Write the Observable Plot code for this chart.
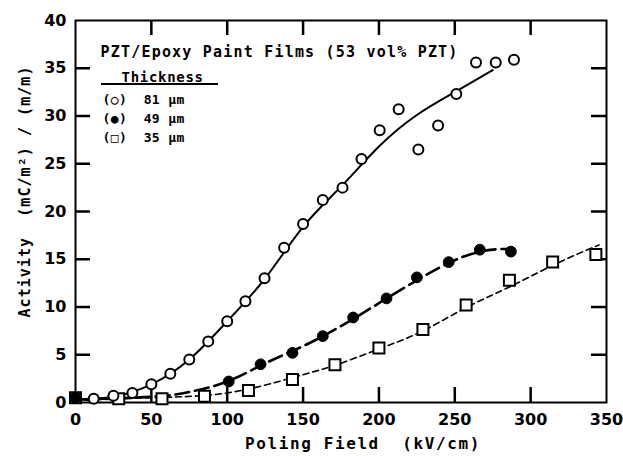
<!DOCTYPE html>
<html>
<head>
<meta charset="utf-8">
<script src="https://cdn.jsdelivr.net/npm/d3@7"></script>
<script src="https://cdn.jsdelivr.net/npm/@observablehq/plot@0.6"></script>
<style>
  html, body { margin: 0; padding: 0; background: #fff; }
</style>
</head>
<body>
<div id="chart"></div>
<script>
// ---- data ----
const x81 = [0, 12, 25, 37.5, 50, 62.5, 75, 87.5, 100, 112, 124.6, 137.5, 150, 163, 176, 188.5, 200.5, 213, 226, 239, 251, 264, 277, 289];
const y81 = [0.5, 0.4, 0.7, 1.0, 1.9, 3.0, 4.5, 6.4, 8.5, 10.6, 13.0, 16.2, 18.7, 21.2, 22.5, 25.5, 28.5, 30.7, 26.5, 29.0, 32.3, 35.6, 35.6, 35.9];

const x49 = [0, 101, 122, 143, 163, 183, 205, 225, 246, 266.5, 287];
const y49 = [0.5, 2.2, 4.0, 5.2, 6.95, 8.9, 10.9, 13.1, 14.7, 16.0, 15.8];

const x35 = [0, 28.5, 57, 85, 114, 143, 171, 200, 229, 257.5, 286, 314.5, 343];
const y35 = [0.5, 0.4, 0.4, 0.66, 1.26, 2.4, 3.95, 5.7, 7.65, 10.2, 12.8, 14.7, 15.5];

// fitted curves
const fit81x = [0, 25, 50, 75, 100, 125, 150, 175, 200, 225, 250, 275];
const fit81y = [0.3, 0.6, 1.9, 4.5, 8.5, 13.0, 18.4, 22.6, 26.8, 30.1, 32.5, 34.8];
const fit49x = [0, 50, 75, 100, 125, 150, 175, 200, 225, 250, 270, 287];
const fit49y = [0.3, 0.6, 1.1, 2.2, 4.1, 5.9, 8.0, 10.4, 12.8, 14.9, 15.9, 16.1];
const fit35x = [0, 50, 100, 143, 171, 200, 229, 257, 286, 315, 345];
const fit35y = [0.2, 0.5, 1.0, 2.6, 3.9, 5.6, 7.5, 9.9, 12.1, 14.4, 16.5];

const xTickLabels = [0, 50, 100, 150, 200, 250, 300, 350];
const yTickLabels = [0, 5, 10, 15, 20, 25, 30, 35, 40];
const xInnerTicks = [50, 100, 150, 200, 250, 300];
const yInnerTicks = [5, 10, 15, 20, 25, 30, 35];

const titleText = "PZT/Epoxy Paint Films (53 vol% PZT)";
const legendHead = "Thickness";
const legendRows = ["(○)  81 µm", "(●)  49 µm", "(□)  35 µm"];
const xLabel = "Poling Field  (kV/cm)";
const yLabel = "Activity  (mC/m²) / (m/m)";

// ---- build ----
const zip = (xs, ys) => xs.map((x, i) => ({x, y: ys[i]}));
const d81 = zip(x81, y81), d49 = zip(x49, y49), d35 = zip(x35, y35);
const f81 = zip(fit81x, fit81y), f49 = zip(fit49x, fit49y), f35 = zip(fit35x, fit35y);

const mono = "DejaVu Sans Mono";
const sans = "DejaVu Sans";
const tickLenY = 1.57;  // y units (~15px)
const tickLenX = 9.9;   // x units (~15px)

const xTickBottom = xInnerTicks.map(v => ({x: v, a: 0, b: tickLenY}));
const xTickTop = xInnerTicks.map(v => ({x: v, a: 40, b: 40 - tickLenY}));
const yTickLeft = yInnerTicks.map(v => ({y: v, a: 0, b: tickLenX}));
const yTickRight = yInnerTicks.map(v => ({y: v, a: 350, b: 350 - tickLenX}));

const rowDy = [79, 98.5, 117.5];
const legendMarks = legendRows.map((r, i) =>
  Plot.text([r], {frameAnchor: "top-left", dx: 27, dy: rowDy[i], textAnchor: "start", lineAnchor: "middle",
    fontFamily: mono, fontWeight: "bold", fontSize: 13, fill: "black"}));

const chart = Plot.plot({
  width: 623,
  height: 456,
  marginLeft: 75,
  marginRight: 17,
  marginTop: 20,
  marginBottom: 54,
  x: {domain: [0, 350]},
  y: {domain: [0, 40]},
  marks: [
    Plot.axisX({ticks: xTickLabels, tickSize: 0, tickPadding: 11, label: null,
      fontFamily: sans, fontWeight: "bold", fontSize: 16}),
    Plot.axisY({ticks: yTickLabels, tickSize: 0, tickPadding: 9, label: null,
      fontFamily: sans, fontWeight: "bold", fontSize: 16}),
    Plot.frame({stroke: "black", strokeWidth: 2}),
    // inward ticks
    Plot.ruleX(xTickBottom, {x: "x", y1: "a", y2: "b", stroke: "black", strokeWidth: 2.5}),
    Plot.ruleX(xTickTop, {x: "x", y1: "a", y2: "b", stroke: "black", strokeWidth: 2.5}),
    Plot.ruleY(yTickLeft, {y: "y", x1: "a", x2: "b", stroke: "black", strokeWidth: 2.5}),
    Plot.ruleY(yTickRight, {y: "y", x1: "a", x2: "b", stroke: "black", strokeWidth: 2.5}),
    // fitted lines
    Plot.line(f35, {x: "x", y: "y", curve: "natural", stroke: "black", strokeWidth: 1.6, strokeDasharray: "6,4"}),
    Plot.line(f49, {x: "x", y: "y", curve: "natural", stroke: "black", strokeWidth: 2.6, strokeDasharray: "14,6"}),
    Plot.line(f81, {x: "x", y: "y", curve: "natural", stroke: "black", strokeWidth: 2}),
    // markers
    Plot.dot(d35, {x: "x", y: "y", symbol: "square", r: 6.2, fill: "white", stroke: "black", strokeWidth: 2}),
    Plot.dot(d81, {x: "x", y: "y", symbol: "circle", r: 5, fill: "white", stroke: "black", strokeWidth: 2}),
    Plot.dot(d49, {x: "x", y: "y", symbol: "circle", r: 5.4, fill: "black", stroke: "black", strokeWidth: 1}),
    // legend
    Plot.text([titleText], {frameAnchor: "top-left", dx: 25, dy: 32, textAnchor: "start", lineAnchor: "middle",
      fontFamily: mono, fontWeight: "bold", fontSize: 15, fill: "black"}),
    Plot.text([legendHead], {frameAnchor: "top-left", dx: 46, dy: 57, textAnchor: "start", lineAnchor: "middle",
      fontFamily: mono, fontWeight: "bold", fontSize: 14, fill: "black"}),
    ...legendMarks,
    // axis labels
    Plot.text([xLabel], {frameAnchor: "bottom", dx: 22, dy: 41, textAnchor: "middle", lineAnchor: "middle",
      fontFamily: mono, fontWeight: "bold", fontSize: 16, fill: "black"}),
    Plot.text([yLabel], {frameAnchor: "left", dx: -50, dy: -20, rotate: -90, textAnchor: "middle", lineAnchor: "middle",
      fontFamily: mono, fontWeight: "bold", fontSize: 15, fill: "black"})
  ]
});

// post-process: letter spacing, underline
const spacing = {};
spacing[titleText] = "1.2px";
spacing[legendHead] = "0.7px";
spacing[xLabel] = "1.6px";
spacing[yLabel] = "1.05px";
legendRows.forEach(r => spacing[r] = "0.4px");
d3.select(chart).selectAll("text").each(function() {
  const t = this.textContent;
  if (spacing[t]) this.style.letterSpacing = spacing[t];
});
d3.select(chart).append("line")
  .attr("x1", 101).attr("x2", 218).attr("y1", 84).attr("y2", 84)
  .attr("stroke", "black").attr("stroke-width", 1.8);

document.getElementById("chart").appendChild(chart);
</script>
</body>
</html>
